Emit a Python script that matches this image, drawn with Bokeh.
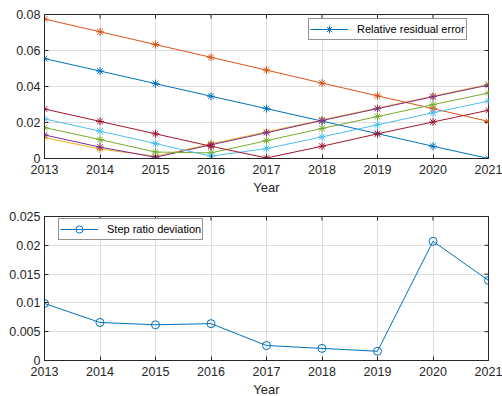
import math
from bokeh.plotting import figure
from bokeh.layouts import column
from bokeh.models import Range1d, FixedTicker, Legend, LegendItem, CustomJSTickFormatter
from bokeh.embed import file_html
from bokeh.resources import INLINE

# ---- data -------------------------------------------------------------
years = [2013, 2014, 2015, 2016, 2017, 2018, 2019, 2020, 2021]

# relative residual error of each model (one series per model)
err_1 = [0.0555, 0.0486, 0.0416, 0.0346, 0.0277, 0.0208, 0.0138, 0.0068, 0.0000]
err_2 = [0.0775, 0.0704, 0.0633, 0.0562, 0.0491, 0.0419, 0.0348, 0.0277, 0.0206]
err_3 = [0.0116, 0.0053, 0.0012, 0.0081, 0.0148, 0.0214, 0.0280, 0.0346, 0.0412]
err_4 = [0.0131, 0.0063, 0.0007, 0.0076, 0.0143, 0.0211, 0.0277, 0.0343, 0.0408]
err_5 = [0.0172, 0.0105, 0.0036, 0.0031, 0.0099, 0.0167, 0.0233, 0.0299, 0.0364]
err_6 = [0.0220, 0.0152, 0.0083, 0.0013, 0.0055, 0.0120, 0.0187, 0.0254, 0.0319]
err_7 = [0.0275, 0.0206, 0.0137, 0.0068, 0.0003, 0.0068, 0.0137, 0.0203, 0.0268]
error_series = [err_1, err_2, err_3, err_4, err_5, err_6, err_7]

# step ratio deviation
step_dev = [0.0099, 0.0066, 0.0062, 0.0064, 0.0026, 0.0021, 0.0016, 0.0207, 0.0139]

top_yticks = [0, 0.02, 0.04, 0.06, 0.08]
bottom_yticks = [0, 0.005, 0.01, 0.015, 0.02, 0.025]

palette = ["#0072BD", "#D95319", "#EDB120", "#7E2F8E",
           "#77AC30", "#4DBEEE", "#A2142F"]

FONT = "Liberation Sans"
INK = "#262626"
GRID = "#dedede"

fmt_js = "return Number(tick.toPrecision(6)).toString();"


def make_axes(p, yticks):
    xax = p.below[0]
    yax = p.left[0]
    xax.ticker = FixedTicker(ticks=years)
    yax.ticker = FixedTicker(ticks=yticks)
    yax.formatter = CustomJSTickFormatter(code=fmt_js)
    for ax in (xax, yax):
        ax.axis_line_color = INK
        ax.axis_line_width = 1
        ax.major_tick_line_color = INK
        ax.major_tick_in = 4
        ax.major_tick_out = 0
        ax.minor_tick_line_color = None
        ax.major_label_text_font = FONT
        ax.major_label_text_color = INK
        ax.major_label_text_font_size = "12.5px"
    yax.major_label_standoff = 4
    xax.major_label_standoff = 6
    xax.axis_label = "Year"
    xax.axis_label_text_font = FONT
    xax.axis_label_text_font_size = "13px"
    xax.axis_label_text_font_style = "normal"
    xax.axis_label_text_color = INK
    xax.axis_label_standoff = 3
    p.xgrid.grid_line_color = GRID
    p.ygrid.grid_line_color = GRID
    p.xgrid.ticker = FixedTicker(ticks=years)
    p.ygrid.ticker = FixedTicker(ticks=yticks)
    p.outline_line_color = INK
    # mirrored inward tick marks on the right and top edges (clipped to the frame)
    x_end = p.x_range.end
    y_end = p.y_range.end
    p.scatter([x_end] * len(yticks), yticks, marker="dash", size=8,
              line_color=INK, line_width=1)
    p.scatter(years, [y_end] * len(years), marker="dash", size=8,
              angle=math.pi / 2, line_color=INK, line_width=1)


def style_legend(leg):
    leg.label_text_font = FONT
    leg.label_text_font_size = "11px"
    leg.label_text_color = "#000000"
    leg.border_line_color = INK
    leg.border_line_width = 1
    leg.background_fill_color = "white"
    leg.background_fill_alpha = 1.0
    leg.padding = 1
    leg.margin = 0
    leg.spacing = 0
    leg.glyph_width = 38
    leg.glyph_height = 18
    leg.label_height = 18
    leg.label_standoff = 9


# ---- top panel: relative residual errors --------------------------------
p1 = figure(frame_width=444, frame_height=144,
            x_range=Range1d(2013, 2021), y_range=Range1d(0, 0.08),
            output_backend="svg", toolbar_location=None,
            min_border_left=44, min_border_right=14,
            min_border_top=14, min_border_bottom=40)
make_axes(p1, top_yticks)

first = None
for vals, col in zip(error_series, palette):
    lr = p1.line(years, vals, line_color=col, line_width=1)
    sr = p1.scatter(years, vals, marker="asterisk", size=8,
                    line_color=col, line_width=1)
    if first is None:
        first = [lr, sr]

leg1 = Legend(items=[LegendItem(label="Relative residual error", renderers=first)],
              location=(264, 118))
style_legend(leg1)
p1.add_layout(leg1)

# ---- bottom panel: step ratio deviation ---------------------------------
p2 = figure(frame_width=444, frame_height=144,
            x_range=Range1d(2013, 2021), y_range=Range1d(0, 0.025),
            output_backend="svg", toolbar_location=None,
            min_border_left=44, min_border_right=14,
            min_border_top=18, min_border_bottom=36)
make_axes(p2, bottom_yticks)

l2 = p2.line(years, step_dev, line_color="#0072BD", line_width=1)
s2 = p2.scatter(years, step_dev, marker="circle", size=8,
                line_color="#0072BD", fill_color=None, line_width=1)

leg2 = Legend(items=[LegendItem(label="Step ratio deviation", renderers=[l2, s2])],
              location=(14, 120))
style_legend(leg2)
p2.add_layout(leg2)

layout = column(p1, p2, spacing=0)
open("out.html", "w").write(file_html(layout, INLINE))
